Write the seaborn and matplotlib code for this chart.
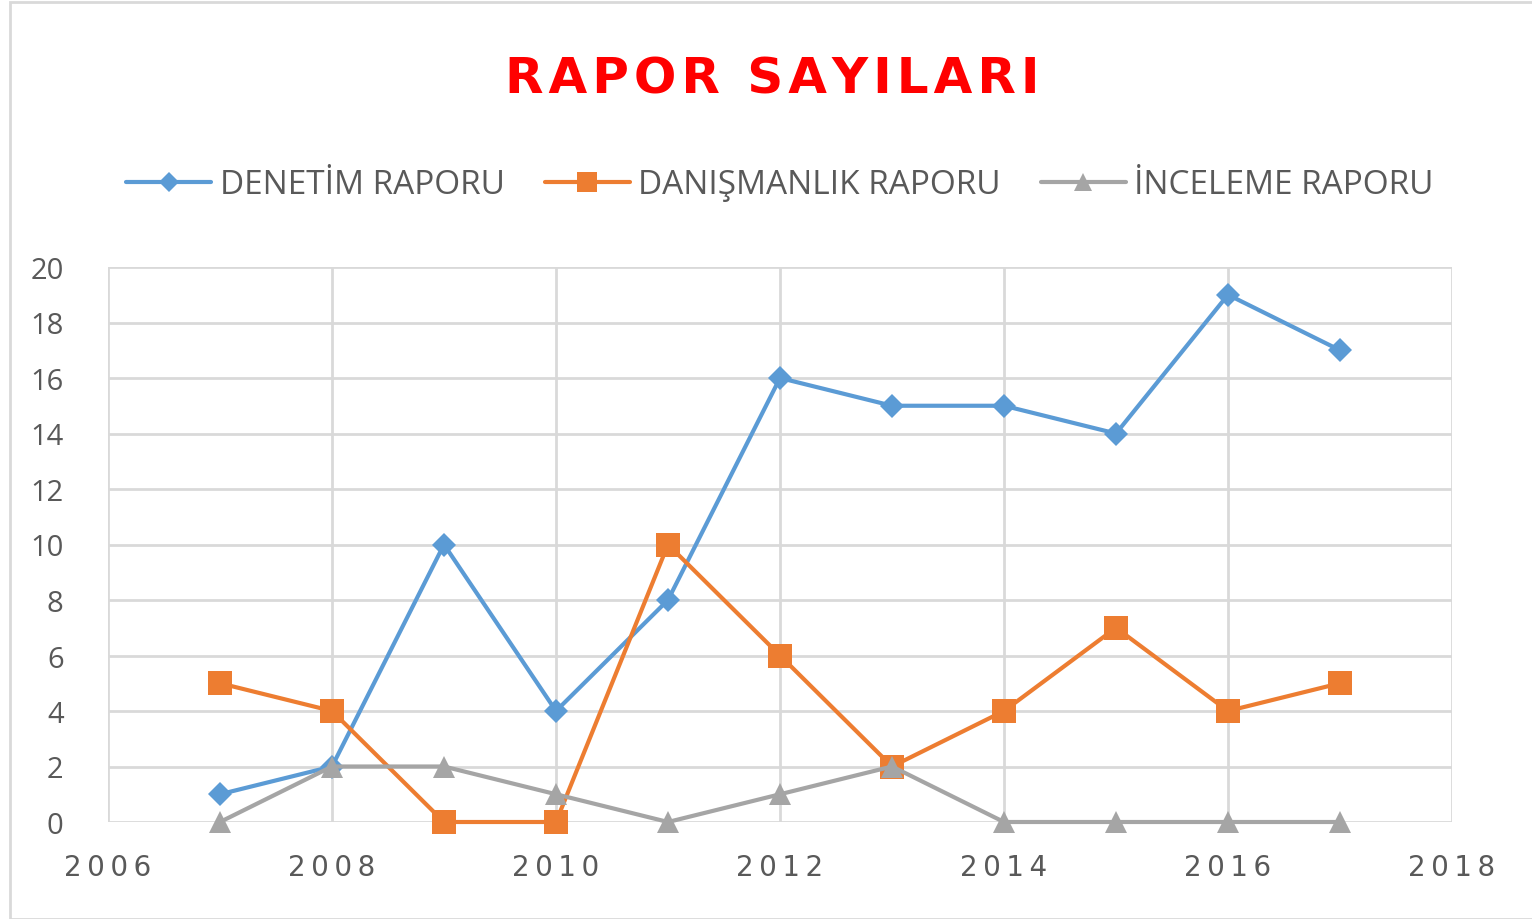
import matplotlib
matplotlib.use("Agg")
import matplotlib.pyplot as plt
import seaborn as sns
import pandas as pd
from matplotlib.patches import Rectangle

years = [2007, 2008, 2009, 2010, 2011, 2012, 2013, 2014, 2015, 2016, 2017]
denetim = [1, 2, 10, 4, 8, 16, 15, 15, 14, 19, 17]
danismanlik = [5, 4, 0, 0, 10, 6, 2, 4, 7, 4, 5]
inceleme = [0, 2, 2, 1, 0, 1, 2, 0, 0, 0, 0]
series_names = ["DENETİM RAPORU", "DANIŞMANLIK RAPORU", "İNCELEME RAPORU"]
x_ticks = [2006, 2008, 2010, 2012, 2014, 2016, 2018]
y_ticks = list(range(0, 21, 2))

sns.set_theme(style="white")
plt.rcParams['font.family'] = ['Open Sans', 'DejaVu Sans']

df = pd.DataFrame({"Yıl": years * 3,
                   "Değer": denetim + danismanlik + inceleme,
                   "Seri": [series_names[0]] * 11 + [series_names[1]] * 11 + [series_names[2]] * 11})

fig = plt.figure(figsize=(15.32, 9.2), dpi=100)
ax = fig.add_axes([108/1532, 1-823/920, (1452-108)/1532, (823-268)/920])

palette = {series_names[0]: "#5B9BD5", series_names[1]: "#ED7D31", series_names[2]: "#A5A5A5"}
markers = {series_names[0]: "D", series_names[1]: "s", series_names[2]: "^"}
sizes = {series_names[0]: 12, series_names[1]: 17, series_names[2]: 16}
for name in series_names:
    sub = df[df["Seri"] == name]
    sns.lineplot(data=sub, x="Yıl", y="Değer", ax=ax, color=palette[name],
                 marker=markers[name], markersize=sizes[name], markeredgewidth=0,
                 linewidth=3, label=name, clip_on=False)

ax.set_xlim(2006, 2018)
ax.set_ylim(0, 20)
ax.set_xticks(x_ticks)
ax.set_yticks(y_ticks)
ax.set_xticklabels(["\u2009".join(str(t)) for t in x_ticks], fontfamily="DejaVu Sans")
ax.grid(True, color="#D9D9D9", linewidth=2)
ax.set_axisbelow(True)
for s in ax.spines.values():
    s.set_visible(False)
ax.tick_params(axis="both", length=0, colors="#595959")
ax.tick_params(axis="x", pad=22, labelsize=20)
ax.tick_params(axis="y", pad=32, labelsize=21)
ax.set_xlabel("")
ax.set_ylabel("")

leg = ax.legend(loc="center", bbox_to_anchor=(0.5, 1 + (268-186)/(823-268)), ncol=3,
                frameon=False, fontsize=24, handlelength=2.55, columnspacing=1.2, handletextpad=0.25,
                markerscale=0.85)
for t in leg.get_texts():
    t.set_color("#595959")

fig.text(772/1532, 1-80/920, "\u200a".join("RAPOR SAYILARI"), color="#FF0000",
         fontsize=36, fontweight="bold", ha="center", va="center", fontfamily="DejaVu Sans")

fig.patches.append(Rectangle((10/1532, 0), 1.2, 1-3/920, transform=fig.transFigure,
                             fill=False, edgecolor="#D9D9D9", linewidth=2))
fig.savefig("out.png", dpi=100)
